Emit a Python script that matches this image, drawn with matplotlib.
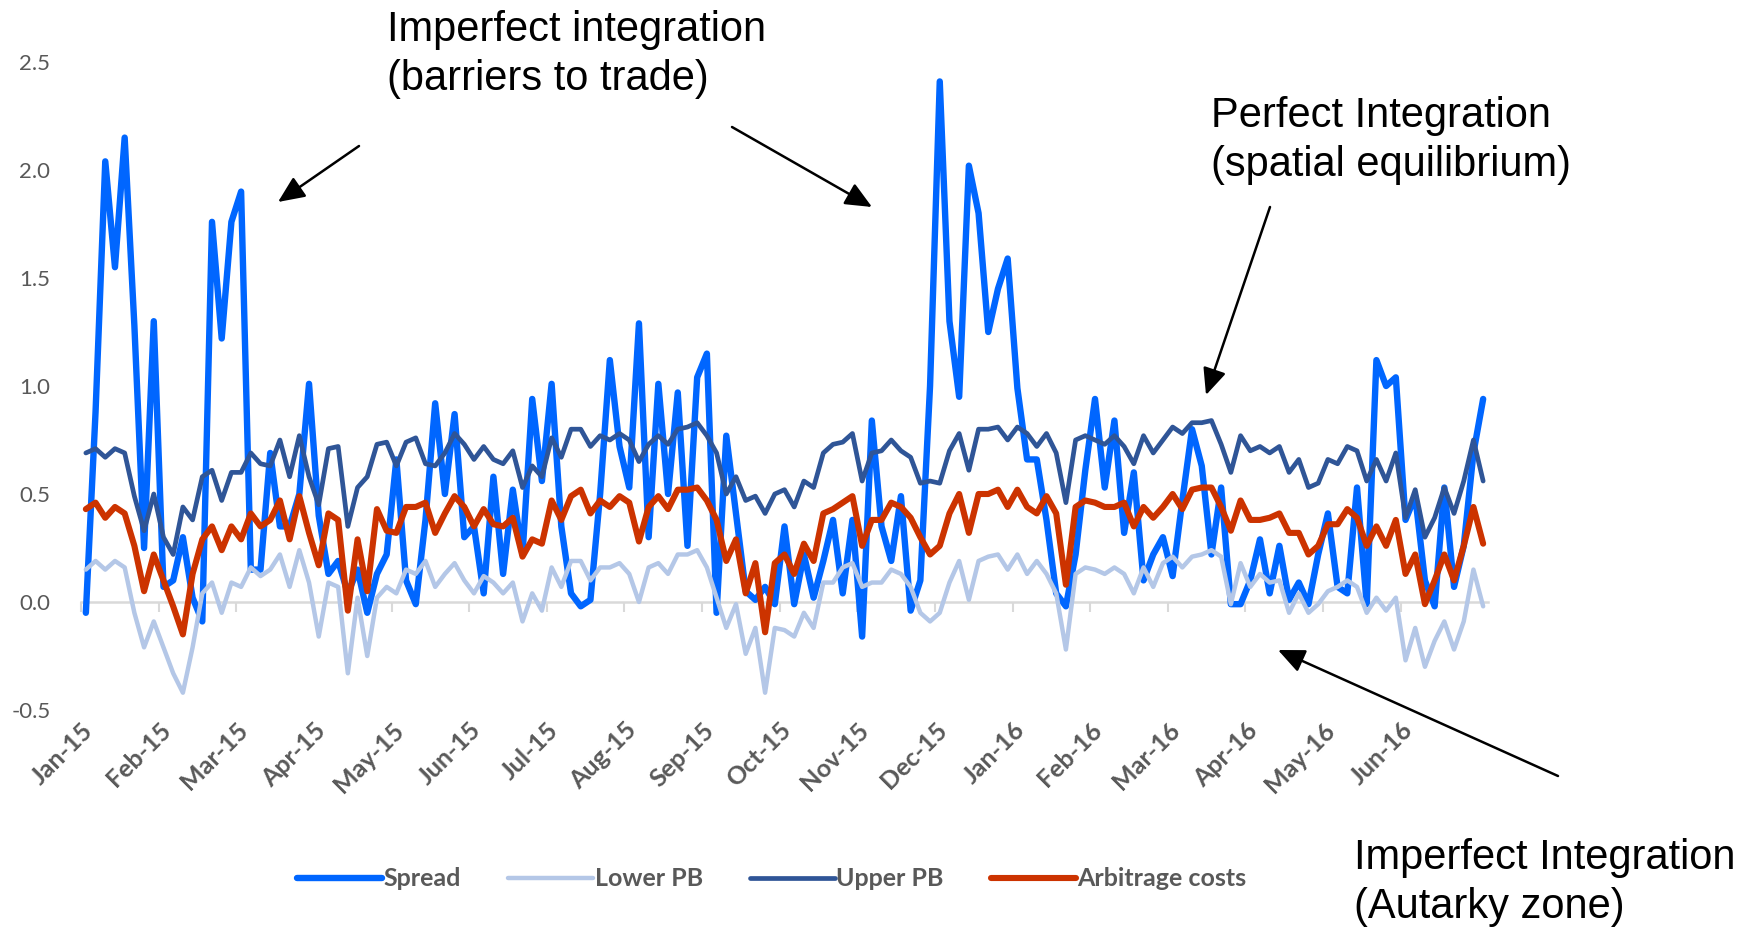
import numpy as np
import matplotlib
matplotlib.use("Agg")
import matplotlib.pyplot as plt
from matplotlib.ticker import FormatStrFormatter

# --- data, ~8 samples per month, Jan-15 .. Jun-16 ---
month_labels = ["Jan-15", "Feb-15", "Mar-15", "Apr-15", "May-15", "Jun-15",
                "Jul-15", "Aug-15", "Sep-15", "Oct-15", "Nov-15", "Dec-15",
                "Jan-16", "Feb-16", "Mar-16", "Apr-16", "May-16", "Jun-16"]
samples_per_month = 8

spread = [
    -0.05, 0.88, 2.04, 1.55, 2.15, 1.28, 0.25, 1.30, 0.07, 0.10, 0.30, 0.02, -0.09, 1.76, 1.22, 1.76,
    1.90, 0.15, 0.15, 0.69, 0.35, 0.35, 0.50, 1.01, 0.40, 0.13, 0.19, 0.04, 0.15, -0.05, 0.13, 0.22,
    0.66, 0.10, -0.01, 0.38, 0.92, 0.50, 0.87, 0.30, 0.35, 0.04, 0.58, 0.13, 0.52, 0.22, 0.94, 0.56,
    1.01, 0.35, 0.04, -0.02, 0.01, 0.50, 1.12, 0.72, 0.53, 1.29, 0.30, 1.01, 0.50, 0.97, 0.26, 1.04,
    1.15, -0.05, 0.77, 0.41, 0.05, 0.01, 0.07, -0.01, 0.35, -0.01, 0.22, 0.02, 0.19, 0.38, 0.04, 0.38,
    -0.16, 0.84, 0.35, 0.19, 0.49, -0.04, 0.10, 1.00, 2.41, 1.30, 0.95, 2.02, 1.80, 1.25, 1.45, 1.59,
    0.99, 0.66, 0.66, 0.38, 0.04, -0.02, 0.22, 0.61, 0.94, 0.53, 0.84, 0.32, 0.60, 0.10, 0.22, 0.30,
    0.12, 0.47, 0.80, 0.63, 0.22, 0.53, -0.01, -0.01, 0.10, 0.29, 0.04, 0.26, 0.01, 0.09, -0.01, 0.22,
    0.41, 0.07, 0.04, 0.53, -0.01, 1.12, 1.00, 1.04, 0.38, 0.49, 0.10, -0.02, 0.53, 0.07, 0.26, 0.69,
    0.94,
]
lower_pb = [
    0.15, 0.19, 0.15, 0.19, 0.16, -0.05, -0.21, -0.09, -0.21, -0.33, -0.42, -0.21, 0.04, 0.09, -0.05, 0.09,
    0.07, 0.16, 0.12, 0.15, 0.22, 0.07, 0.24, 0.09, -0.16, 0.09, 0.07, -0.33, 0.02, -0.25, 0.02, 0.07,
    0.04, 0.15, 0.13, 0.19, 0.07, 0.13, 0.18, 0.10, 0.04, 0.12, 0.09, 0.04, 0.09, -0.09, 0.04, -0.04,
    0.16, 0.07, 0.19, 0.19, 0.10, 0.16, 0.16, 0.18, 0.13, 0.00, 0.16, 0.18, 0.13, 0.22, 0.22, 0.24,
    0.16, 0.02, -0.12, -0.01, -0.24, -0.12, -0.42, -0.12, -0.13, -0.16, -0.05, -0.12, 0.09, 0.09, 0.16, 0.18,
    0.07, 0.09, 0.09, 0.15, 0.13, 0.07, -0.05, -0.09, -0.05, 0.09, 0.19, 0.01, 0.19, 0.21, 0.22, 0.15,
    0.22, 0.13, 0.19, 0.13, 0.04, -0.22, 0.13, 0.16, 0.15, 0.13, 0.16, 0.13, 0.04, 0.16, 0.07, 0.18,
    0.21, 0.16, 0.21, 0.22, 0.24, 0.21, -0.01, 0.18, 0.07, 0.13, 0.09, 0.10, -0.05, 0.04, -0.05, -0.01,
    0.05, 0.07, 0.10, 0.07, -0.05, 0.02, -0.04, 0.02, -0.27, -0.12, -0.30, -0.18, -0.09, -0.22, -0.09, 0.15,
    -0.02,
]
upper_pb = [
    0.69, 0.71, 0.67, 0.71, 0.69, 0.49, 0.33, 0.50, 0.30, 0.22, 0.44, 0.38, 0.58, 0.61, 0.47, 0.60,
    0.60, 0.69, 0.64, 0.63, 0.75, 0.58, 0.77, 0.58, 0.45, 0.71, 0.72, 0.35, 0.53, 0.58, 0.73, 0.74,
    0.63, 0.74, 0.76, 0.64, 0.63, 0.69, 0.78, 0.73, 0.66, 0.72, 0.66, 0.64, 0.70, 0.53, 0.63, 0.58,
    0.76, 0.67, 0.80, 0.80, 0.72, 0.77, 0.75, 0.78, 0.75, 0.65, 0.73, 0.77, 0.73, 0.80, 0.81, 0.83,
    0.77, 0.69, 0.50, 0.58, 0.47, 0.49, 0.41, 0.50, 0.52, 0.44, 0.56, 0.53, 0.69, 0.73, 0.74, 0.78,
    0.56, 0.69, 0.70, 0.75, 0.70, 0.67, 0.55, 0.56, 0.55, 0.70, 0.78, 0.61, 0.80, 0.80, 0.81, 0.75,
    0.81, 0.78, 0.72, 0.78, 0.69, 0.46, 0.75, 0.77, 0.75, 0.73, 0.77, 0.72, 0.64, 0.77, 0.69, 0.75,
    0.81, 0.78, 0.83, 0.83, 0.84, 0.73, 0.60, 0.77, 0.70, 0.72, 0.69, 0.72, 0.60, 0.66, 0.53, 0.55,
    0.66, 0.64, 0.72, 0.70, 0.56, 0.66, 0.56, 0.69, 0.39, 0.52, 0.30, 0.39, 0.53, 0.41, 0.56, 0.75,
    0.56,
]
arbitrage = [
    0.43, 0.46, 0.39, 0.44, 0.41, 0.26, 0.05, 0.22, 0.10, -0.02, -0.15, 0.13, 0.29, 0.35, 0.24, 0.35,
    0.29, 0.41, 0.35, 0.38, 0.47, 0.29, 0.49, 0.32, 0.17, 0.41, 0.38, -0.04, 0.29, 0.05, 0.43, 0.33,
    0.32, 0.44, 0.44, 0.46, 0.32, 0.41, 0.49, 0.44, 0.35, 0.43, 0.36, 0.35, 0.39, 0.21, 0.29, 0.27,
    0.47, 0.38, 0.49, 0.52, 0.41, 0.47, 0.44, 0.49, 0.46, 0.28, 0.44, 0.49, 0.43, 0.52, 0.52, 0.53,
    0.47, 0.38, 0.19, 0.29, 0.04, 0.18, -0.14, 0.18, 0.22, 0.13, 0.27, 0.19, 0.41, 0.43, 0.46, 0.49,
    0.26, 0.38, 0.38, 0.46, 0.44, 0.39, 0.30, 0.22, 0.26, 0.41, 0.50, 0.32, 0.50, 0.50, 0.52, 0.44,
    0.52, 0.44, 0.41, 0.49, 0.41, 0.08, 0.44, 0.47, 0.46, 0.44, 0.44, 0.46, 0.35, 0.44, 0.39, 0.44,
    0.50, 0.43, 0.52, 0.53, 0.53, 0.44, 0.33, 0.47, 0.38, 0.38, 0.39, 0.41, 0.32, 0.32, 0.22, 0.26,
    0.36, 0.36, 0.43, 0.39, 0.26, 0.35, 0.26, 0.38, 0.13, 0.22, -0.01, 0.10, 0.22, 0.10, 0.26, 0.44,
    0.27,
]

series = [
    ("Spread", spread, "#0066FF", 4.6),
    ("Lower PB", lower_pb, "#B4C7E7", 3.2),
    ("Upper PB", upper_pb, "#2F5597", 3.4),
    ("Arbitrage costs", arbitrage, "#CC3300", 4.4),
]

grey = "#595959"
W, H = 1758, 932

fig = plt.figure(figsize=(W / 100, H / 100), dpi=100)
ax = fig.add_axes([81 / W, 1 - 710 / H, 1407 / W, 648 / H])

x = np.arange(len(spread))
for name, vals, color, lw in series:
    ax.plot(x, vals, color=color, lw=lw, label=name,
            solid_joinstyle="round", solid_capstyle="round", zorder=2)

ax.set_xlim(-0.5, len(spread) - 0.5)
ax.set_ylim(-0.5, 2.5)
for s in ax.spines.values():
    s.set_visible(False)

# y axis
ax.set_yticks([-0.5, 0.0, 0.5, 1.0, 1.5, 2.0, 2.5])
ax.yaxis.set_major_formatter(FormatStrFormatter("%.1f"))
ax.tick_params(axis="y", length=0, pad=22, labelsize=16, labelcolor=grey)
for t in ax.get_yticklabels():
    t.set_fontfamily("Lato")

# x labels at the bottom, category-style ticks every month
tick_pos = np.arange(len(month_labels)) * samples_per_month - 0.5
ax.set_xticks(tick_pos)
ax.set_xticklabels(month_labels, rotation=45, ha="right", rotation_mode="anchor",
                   fontsize=18, fontweight="bold", color=grey, fontfamily="Lato")
ax.tick_params(axis="x", length=0, pad=6)

# horizontal axis line at zero with its tick marks
zero_frac = (0 - (-0.5)) / 3.0
sec = ax.secondary_xaxis(zero_frac)
sec.set_xticks(tick_pos)
sec.tick_params(axis="x", length=7, width=1.5, color="#D9D9D9", labelbottom=False)
sec.spines["bottom"].set_color("#D9D9D9")
sec.spines["bottom"].set_linewidth(1.8)
sec.set_zorder(1)

# legend
leg = fig.legend(loc="center", bbox_to_anchor=(772 / W, 1 - 879 / H), ncol=4,
                 frameon=False, handlelength=3.4, handletextpad=0.05, columnspacing=1.9,
                 prop={"family": "Lato", "weight": "bold", "size": 18})
for t in leg.get_texts():
    t.set_color(grey)

# annotations
note_font = dict(fontfamily="Liberation Sans", fontsize=30, color="black",
                 va="top", ha="left", linespacing=1.3)
fig.text(387 / W, 1 - 10 / H, "Imperfect integration\n(barriers to trade)", **note_font)
fig.text(1211 / W, 1 - 96 / H, "Perfect Integration\n(spatial equilibrium)", **note_font)
fig.text(1354 / W, 1 - 838 / H, "Imperfect Integration\n(Autarky zone)", **note_font)

arrows = [
    ((359, 146), (278, 202)),
    ((732, 127), (872, 207)),
    ((1270, 207), (1206, 395)),
    ((1558, 776), (1278, 650)),
]
for (tx, ty), (hx, hy) in arrows:
    ax.annotate("", xy=(hx / W, 1 - hy / H), xytext=(tx / W, 1 - ty / H),
                xycoords="figure fraction", textcoords="figure fraction",
                arrowprops=dict(arrowstyle="-|>,head_length=0.9,head_width=0.4",
                                color="black", lw=1.8, mutation_scale=18,
                                shrinkA=0, shrinkB=0))

fig.savefig("out.png", dpi=100)
